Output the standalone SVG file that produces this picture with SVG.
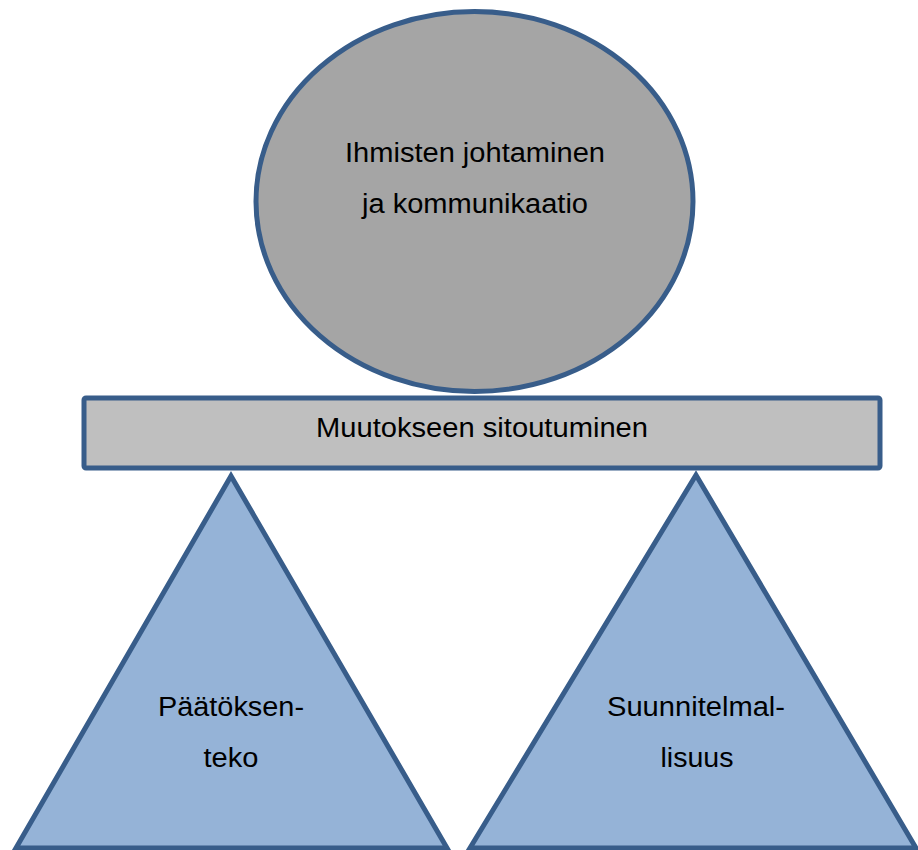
<svg xmlns="http://www.w3.org/2000/svg" width="918" height="850" viewBox="0 0 918 850">
<style>
.shape{stroke:#385D8A;stroke-width:5;stroke-linejoin:miter}
.lbl{font-family:"Liberation Sans",Arial,sans-serif;font-size:27px;fill:#000;text-anchor:middle}
</style>
<rect width="918" height="850" fill="#FFFFFF"/>
<g id="leadership">
<ellipse class="shape" cx="474.5" cy="201.5" rx="218.5" ry="190" fill="#A5A5A5"/>
<text class="lbl" x="475" y="162" textLength="260" lengthAdjust="spacingAndGlyphs">Ihmisten johtaminen</text>
<text class="lbl" x="475" y="213" textLength="226" lengthAdjust="spacingAndGlyphs">ja kommunikaatio</text>
</g>
<g id="commitment">
<rect class="shape" x="84" y="398" width="796" height="70" rx="2" fill="#BFBFBF"/>
<text class="lbl" x="482" y="437" textLength="332" lengthAdjust="spacingAndGlyphs">Muutokseen sitoutuminen</text>
</g>
<g id="decision">
<polygon class="shape" points="231,476 16,848 447,848" fill="#95B3D7"/>
<text class="lbl" x="231" y="716" textLength="146" lengthAdjust="spacingAndGlyphs">Päätöksen-</text>
<text class="lbl" x="231" y="767" textLength="55" lengthAdjust="spacingAndGlyphs">teko</text>
</g>
<g id="planning">
<polygon class="shape" points="696,475 470,848 916,848" fill="#95B3D7"/>
<text class="lbl" x="696" y="716" textLength="178" lengthAdjust="spacingAndGlyphs">Suunnitelmal-</text>
<text class="lbl" x="697" y="767" textLength="73" lengthAdjust="spacingAndGlyphs">lisuus</text>
</g>
<g id="connectors"></g>
</svg>
